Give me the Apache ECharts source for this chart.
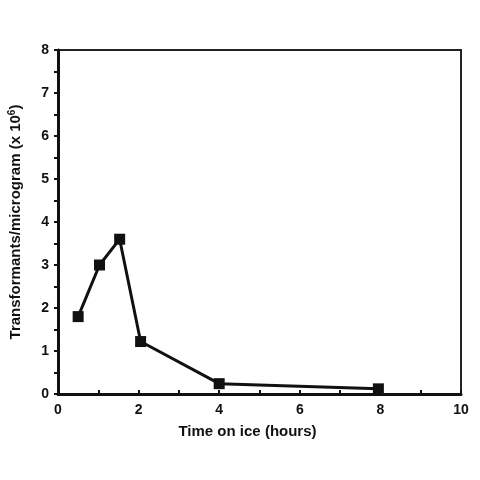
<!DOCTYPE html>
<html>
<head>
<meta charset="utf-8">
<script src="https://cdn.jsdelivr.net/npm/echarts@6/dist/echarts.min.js"></script>
<style>
  html, body { margin: 0; padding: 0; background: #fff; }
  #chart { width: 480px; height: 480px; }
</style>
</head>
<body>
<div id="chart"></div>
<script>
// time on ice (hours) and transformants per microgram (x 10^6)
var hours = [0.5, 1.03, 1.53, 2.05, 4.0, 7.95];
var transformants = [1.8, 3.0, 3.6, 1.22, 0.24, 0.12];

var chart = echarts.init(document.getElementById('chart'));
var font = 'Liberation Sans, Arial, sans-serif';

var points = hours.map(function (h, i) {
  return [h, transformants[i]];
});

var option = {
  animation: false,
  grid: {
    left: 58,
    right: 19,
    top: 50,
    bottom: 86,
    outerBoundsMode: 'none',
    containLabel: false,
    show: true,
    borderColor: '#222',
    borderWidth: 2
  },
  xAxis: {
    type: 'value',
    min: 0,
    max: 10,
    interval: 2,
    name: 'Time on ice (hours)',
    nameLocation: 'middle',
    nameGap: 30,
    nameTextStyle: { fontFamily: font, fontWeight: 'bold', fontSize: 15, color: '#111', padding: [0, 24, 0, 0] },
    axisLine: { lineStyle: { color: '#111', width: 3 } },
    axisTick: { inside: true, length: 4, lineStyle: { color: '#111', width: 2 } },
    minorTick: { show: true, splitNumber: 2, length: 4, lineStyle: { color: '#111', width: 2 } },
    axisLabel: { fontFamily: font, fontWeight: 'bold', fontSize: 14, color: '#111', margin: 9 },
    splitLine: { show: false }
  },
  yAxis: {
    type: 'value',
    min: 0,
    max: 8,
    interval: 1,
    name: '{a|Transformants/microgram (x 10}{s|6}{a|)}',
    nameLocation: 'middle',
    nameGap: 33,
    nameTextStyle: {
      rich: {
        a: { fontFamily: font, fontWeight: 'bold', fontSize: 15, color: '#111' },
        s: { fontFamily: font, fontWeight: 'bold', fontSize: 10, color: '#111', verticalAlign: 'top', padding: [0, 0, 8, 0] }
      }
    },
    axisLine: { lineStyle: { color: '#111', width: 3 } },
    axisTick: { inside: false, length: 4, lineStyle: { color: '#111', width: 2 } },
    minorTick: { show: true, splitNumber: 2, length: 4, lineStyle: { color: '#111', width: 2 } },
    axisLabel: { fontFamily: font, fontWeight: 'bold', fontSize: 14, color: '#111', margin: 9 },
    splitLine: { show: false }
  },
  series: [
    {
      type: 'line',
      data: points,
      symbol: 'rect',
      symbolSize: 11,
      lineStyle: { color: '#111', width: 3 },
      itemStyle: { color: '#111' }
    }
  ]
};

chart.setOption(option);
</script>
</body>
</html>
